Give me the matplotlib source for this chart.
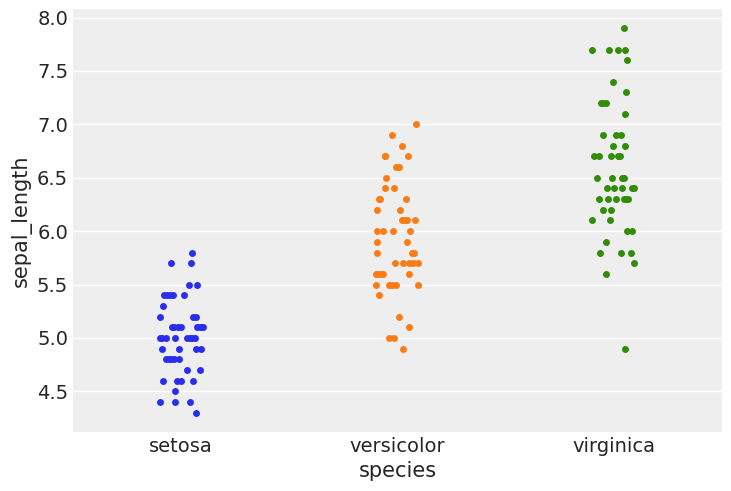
import matplotlib
matplotlib.use("Agg")
import matplotlib.pyplot as plt

species = ["setosa", "versicolor", "virginica"]
colors = ["#2a2eec", "#fa7c17", "#328c06"]

# sepal_length values (iris), grouped by value
setosa_vals = [5.8, 5.7, 5.7, 5.5, 5.5, 5.4, 5.4, 5.4, 5.4, 5.4, 5.3, 5.2, 5.2, 5.2,
               5.1, 5.1, 5.1, 5.1, 5.1, 5.1, 5.1, 5.1,
               5.0, 5.0, 5.0, 5.0, 5.0, 5.0, 5.0, 5.0,
               4.9, 4.9, 4.9, 4.9, 4.8, 4.8, 4.8, 4.8, 4.8, 4.7, 4.7,
               4.6, 4.6, 4.6, 4.6, 4.5, 4.4, 4.4, 4.4, 4.3]
setosa_jit = [0.052, -0.048, 0.046, 0.038, 0.072, -0.079, -0.066, -0.051, -0.038, 0.011,
              -0.085, -0.100, 0.054, 0.069,
              -0.043, -0.031, -0.017, -0.001, 0.072, 0.085, 0.095, 0.100,
              -0.100, -0.088, -0.072, -0.029, 0.029, 0.042, 0.052, 0.063,
              -0.089, -0.009, 0.068, 0.091, -0.069, -0.057, -0.045, -0.035, -0.008, 0.029, 0.088,
              -0.082, -0.020, -0.001, 0.055, -0.029, -0.100, -0.029, 0.040, 0.069]

versicolor_vals = [7.0, 6.9, 6.8, 6.7, 6.7, 6.7, 6.6, 6.6, 6.5, 6.4, 6.4,
                   6.3, 6.3, 6.3, 6.2, 6.2, 6.1, 6.1, 6.1, 6.1, 6.0, 6.0, 6.0, 6.0,
                   5.9, 5.9, 5.8, 5.8, 5.8, 5.7, 5.7, 5.7, 5.7, 5.7,
                   5.6, 5.6, 5.6, 5.6, 5.6, 5.5, 5.5, 5.5, 5.5, 5.5,
                   5.4, 5.2, 5.1, 5.0, 5.0, 4.9]
versicolor_jit = [0.085, -0.024, 0.021, -0.060, -0.056, 0.050, -0.005, 0.008, -0.053, -0.058, -0.015,
                  -0.087, -0.083, 0.038, -0.096, 0.013, 0.022, 0.035, 0.045, 0.081,
                  -0.093, -0.068, -0.019, 0.058,
                  -0.093, 0.042, -0.096, 0.065, 0.074, -0.013, 0.027, 0.053, 0.073, 0.096,
                  -0.100, -0.089, -0.076, -0.067, 0.055, -0.099, -0.038, -0.024, -0.005, 0.096,
                  -0.085, 0.005, 0.052, -0.038, -0.015, 0.025]

virginica_vals = [7.9, 7.7, 7.7, 7.7, 7.7, 7.6, 7.4, 7.3, 7.2, 7.2, 7.2, 7.1,
                  6.9, 6.9, 6.9, 6.8, 6.8, 6.7, 6.7, 6.7, 6.7, 6.7,
                  6.5, 6.5, 6.5, 6.5, 6.4, 6.4, 6.4, 6.4, 6.4,
                  6.3, 6.3, 6.3, 6.3, 6.3, 6.3, 6.2, 6.2, 6.1, 6.1, 6.0, 6.0,
                  5.9, 5.8, 5.8, 5.8, 5.7, 5.6, 4.9]
virginica_jit = [0.046, -0.100, -0.022, 0.017, 0.051, 0.059, -0.002, 0.054, -0.060, -0.052, -0.034, 0.052,
                 -0.048, 0.011, 0.032, -0.002, 0.052, -0.092, -0.068, -0.014, 0.017, 0.029,
                 -0.077, -0.009, 0.038, 0.045, -0.032, 0.000, 0.037, 0.085, 0.094,
                 -0.069, -0.029, 0.011, 0.045, 0.054, 0.066, -0.051, -0.012, -0.100, -0.017, 0.062, 0.082,
                 -0.035, -0.065, 0.031, 0.080, 0.092, -0.035, 0.052]

values = [setosa_vals, versicolor_vals, virginica_vals]
jitters = [setosa_jit, versicolor_jit, virginica_jit]

plt.rcParams.update({
    "font.family": ["DejaVu Sans"],
    "font.size": 14,
    "text.color": "#262626",
    "axes.labelcolor": "#262626",
    "xtick.color": "#262626",
    "ytick.color": "#262626",
})

fig = plt.figure(figsize=(7.31, 4.91), dpi=100)
ax = fig.add_axes([0.0999, 0.1202, 0.8878, 0.8615])
ax.set_facecolor("#eeeeee")
for s in ax.spines.values():
    s.set_visible(False)

for i, (vals, jit) in enumerate(zip(values, jitters)):
    xs = [i + j for j in jit]
    ax.scatter(xs, vals, s=25, color=colors[i], linewidths=0, zorder=3)

ax.set_xlim(-0.5, 2.5)
ax.set_ylim(4.12, 8.08)
ax.set_xticks(range(len(species)))
ax.set_xticklabels(species)
ax.set_yticks([4.5, 5.0, 5.5, 6.0, 6.5, 7.0, 7.5, 8.0])
ax.yaxis.grid(True, color="white", linewidth=1, zorder=0)
ax.xaxis.grid(False)
ax.set_axisbelow(True)
ax.tick_params(length=0, labelsize=14, pad=3.5)
ax.set_xlabel("species", fontsize=15, labelpad=4)
ax.set_ylabel("sepal_length", fontsize=15, labelpad=4)

fig.savefig("out.png", dpi=100)
